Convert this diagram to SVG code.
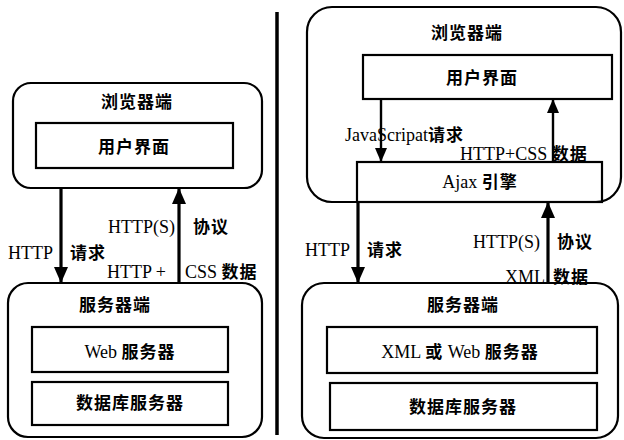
<svg xmlns="http://www.w3.org/2000/svg" width="624" height="440" viewBox="0 0 624 440">
<style>
.box{fill:none;stroke:#000;stroke-width:2.2}
.in{fill:none;stroke:#000;stroke-width:2.2}
.t{font-family:"Liberation Serif","Noto Sans CJK SC",serif;font-size:18px;fill:#000}
.c{font-family:"Liberation Serif","Noto Sans CJK SC",serif;font-size:17px;font-weight:bold;fill:#000;letter-spacing:1px}
.b{font-weight:bold;font-size:17px;letter-spacing:1px}
.m{text-anchor:middle}
.a{stroke:#000;stroke-width:3.2;fill:none}
.a2{stroke:#000;stroke-width:2.4;fill:none}
</style>
<defs>
<marker id="ah" markerUnits="userSpaceOnUse" markerWidth="16" markerHeight="16" viewBox="0 0 16 16" refX="16" refY="8" orient="auto">
<path d="M0,1 L16,8 L0,15 Z" fill="#000"/>
</marker>
<marker id="ah2" markerUnits="userSpaceOnUse" markerWidth="14" markerHeight="14" viewBox="0 0 14 14" refX="14" refY="7" orient="auto">
<path d="M0,1 L14,7 L0,13 Z" fill="#000"/>
</marker>
</defs>
<line x1="277" y1="12" x2="277" y2="435" stroke="#000" stroke-width="3.5"/>
<g id="left-browser">
<rect class="box" x="13" y="83" width="249" height="105" rx="18"/>
<text class="c m" x="137" y="108">浏览器端</text>
</g>
<g id="left-ui">
<rect class="in" x="36" y="123" width="197" height="45"/>
<text class="c m" x="134" y="153">用户界面</text>
</g>
<g id="left-server">
<rect class="box" x="8" y="283" width="254" height="154" rx="20"/>
<text class="c m" x="115" y="311">服务器端</text>
</g>
<g id="left-web">
<rect class="in" x="32" y="327" width="196" height="45"/>
<text class="t m" x="130" y="358">Web <tspan class="b">服务器</tspan></text>
</g>
<g id="left-db">
<rect class="in" x="32" y="382" width="196" height="43"/>
<text class="c m" x="130" y="409">数据库服务器</text>
</g>
<g id="right-browser">
<rect class="box" x="307" y="7" width="314" height="195" rx="25"/>
<text class="c m" x="467" y="39">浏览器端</text>
</g>
<g id="right-ui">
<rect class="in" x="363" y="55" width="249" height="44"/>
<text class="c m" x="482" y="84">用户界面</text>
</g>
<g id="right-ajax">
<rect class="in" x="357" y="162" width="245" height="40" fill="#fff"/>
<text class="t m" x="480" y="188">Ajax <tspan class="b">引擎</tspan></text>
</g>
<g id="right-server">
<rect class="box" x="302" y="283" width="316" height="155" rx="22"/>
<text class="c m" x="463" y="311">服务器端</text>
</g>
<g id="right-web">
<rect class="in" x="327" y="327" width="270" height="46"/>
<text class="t m" x="460" y="358">XML <tspan class="b">或</tspan> Web <tspan class="b">服务器</tspan></text>
</g>
<g id="right-db">
<rect class="in" x="330" y="383" width="267" height="47"/>
<text class="c m" x="463" y="413">数据库服务器</text>
</g>
<g id="connectors">
<line class="a" x1="61" y1="188" x2="61" y2="283" marker-end="url(#ah)"/>
<line class="a" x1="179" y1="283" x2="179" y2="188" marker-end="url(#ah)"/>
<line class="a2" x1="381" y1="99" x2="381" y2="162" marker-end="url(#ah2)"/>
<line class="a2" x1="553" y1="162" x2="553" y2="99" marker-end="url(#ah2)"/>
<line class="a" x1="358" y1="202" x2="358" y2="283" marker-end="url(#ah)"/>
<line class="a" x1="548" y1="283" x2="548" y2="202" marker-end="url(#ah)"/>
</g>
<g id="labels">
<text class="t" x="108" y="233">HTTP(S)</text>
<text class="c" x="193" y="233">协议</text>
<text class="t" x="8" y="259">HTTP</text>
<text class="c" x="70" y="259">请求</text>
<text class="t" x="107" y="278">HTTP +</text>
<text class="t" x="185" y="278">CSS <tspan class="b">数据</tspan></text>
<text class="t" x="345" y="141">JavaScripat<tspan class="b">请求</tspan></text>
<text class="t" x="460" y="160">HTTP+CSS <tspan class="b">数据</tspan></text>
<text class="t" x="305" y="256">HTTP</text>
<text class="c" x="367" y="256">请求</text>
<text class="t" x="473" y="248">HTTP(S)</text>
<text class="c" x="557" y="248">协议</text>
<text class="t" x="505" y="283">XML</text>
<text class="c" x="553" y="283">数据</text>
</g>
</svg>
